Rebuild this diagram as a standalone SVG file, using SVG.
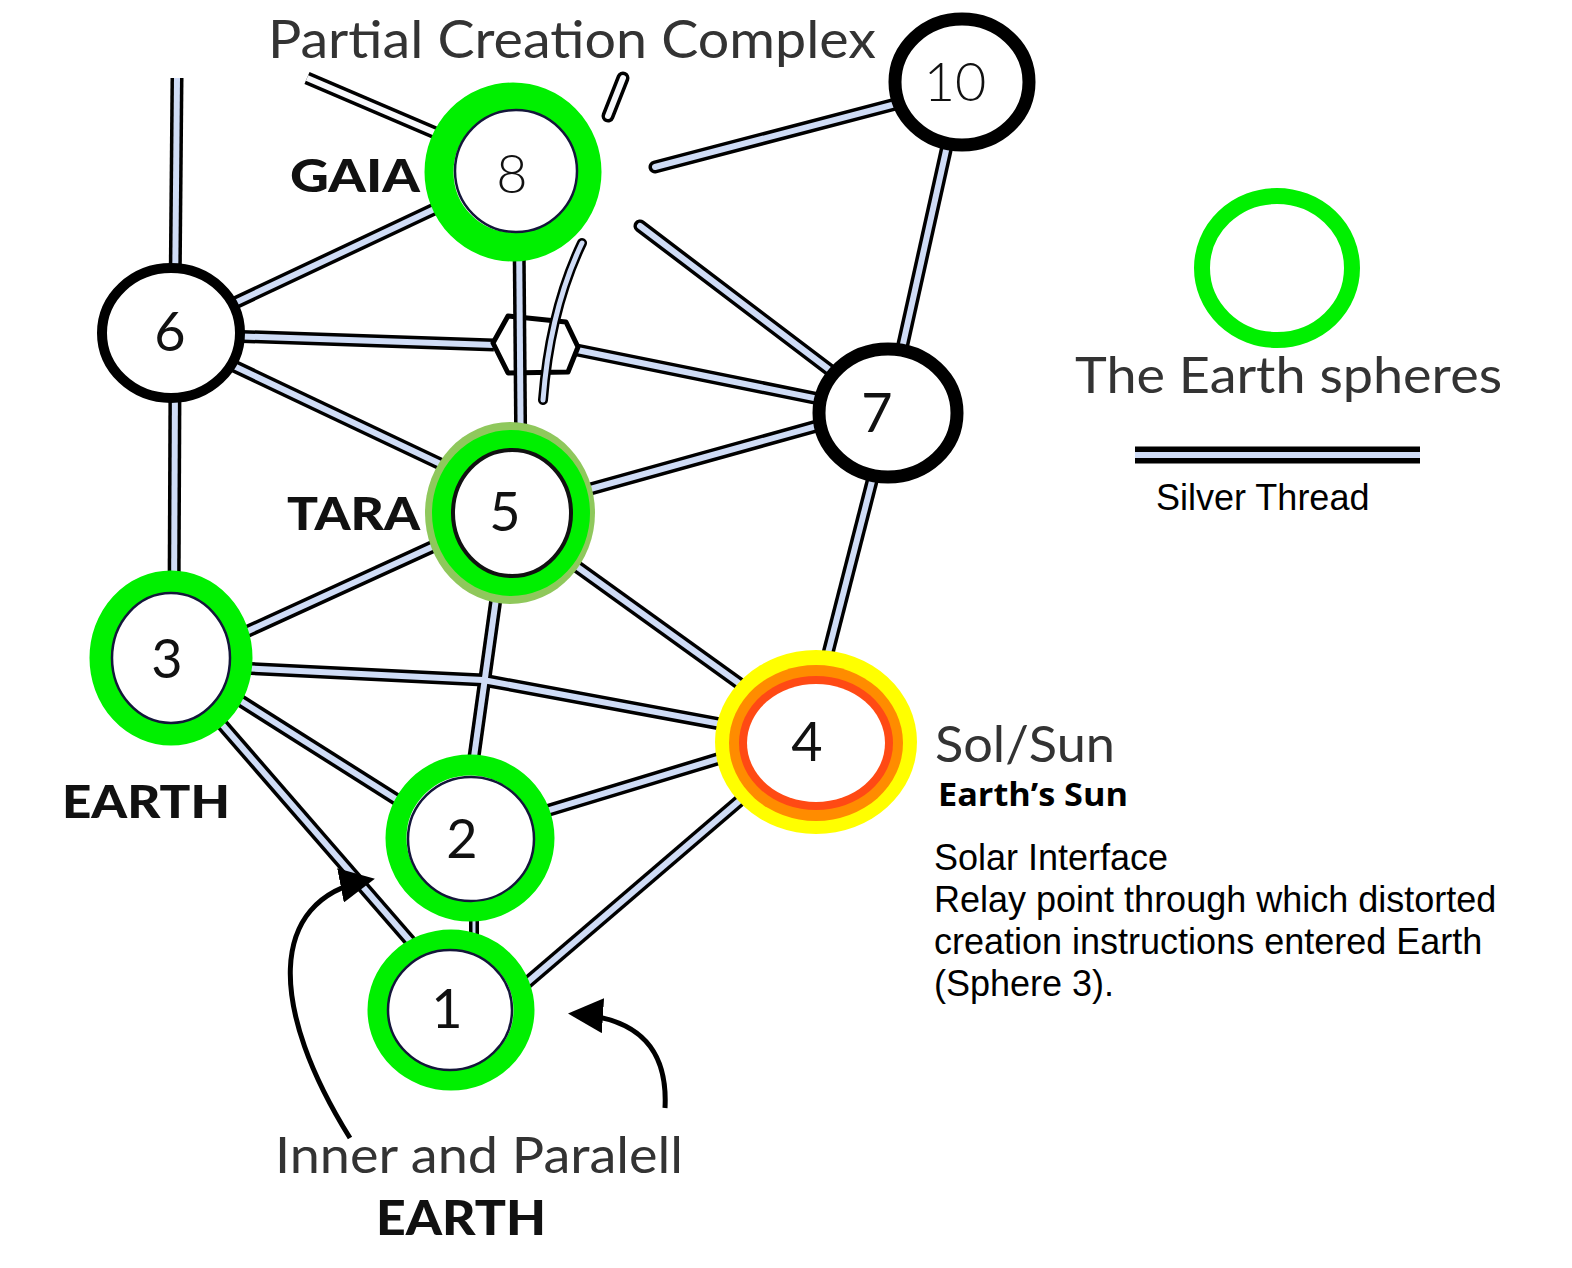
<svg xmlns="http://www.w3.org/2000/svg" width="1572" height="1268" viewBox="0 0 1572 1268">
<style>
.to{fill:none;stroke:#000;stroke-width:13}
.ti{fill:none;stroke:#cfdcf6;stroke-width:6}
.tw{fill:none;stroke:#f7f8fb;stroke-width:6}
.rc{stroke-linecap:round}
.num{font-family:Lato,"Noto Sans",sans-serif;font-weight:400;font-size:54px;fill:#111;text-anchor:middle}
.lt{font-weight:300}
.lbl{font-family:Lato,"Noto Sans",sans-serif;fill:#333}
.bold{font-family:Lato,"Noto Sans",sans-serif;font-weight:900;fill:#111}
.ar{font-family:"Liberation Sans",Arial,sans-serif;font-size:36px;fill:#000}
.green{fill:#fff;stroke:#00f000}
.blk{fill:#fff;stroke:#000}
.inner{fill:#fff;stroke:#14163a;stroke-width:2.5}
.arrow{fill:none;stroke:#000;stroke-width:5}
</style>
<defs>
<marker id="ah" viewBox="0 0 10 10" refX="8" refY="5" markerWidth="7" markerHeight="7" markerUnits="strokeWidth" orient="auto">
<path d="M0,0 L10,5 L0,10 z" fill="#000"/>
</marker>
</defs>
<rect width="1572" height="1268" fill="#fff"/>

<g id="connectors">
<path class="to" d="M177,78 L175,300"/><path class="ti" d="M177,78 L175,300"/>
<path class="to" d="M307,78 L480,152"/><path class="tw" d="M307,78 L480,152"/>
<path class="to rc" d="M623,78 L608,116"/><path class="tw rc" d="M623,78 L608,116"/>
<path class="to rc" d="M930,95 L655,167"/><path class="ti rc" d="M930,95 L655,167"/>
<path class="to" d="M955,110 L895,380"/><path class="ti" d="M955,110 L895,380"/>
<path class="to rc" d="M640,226 L860,393"/><path class="ti rc" d="M640,226 L860,393"/>
<path class="to" d="M513,172 L171,333"/><path class="ti" d="M513,172 L171,333"/>
<path class="to" d="M171,334 L494,345"/><path class="ti" d="M171,334 L494,345"/>
<path class="to" d="M577,350 L888,413"/><path class="ti" d="M577,350 L888,413"/>
<path class="to" d="M200,350 L470,478"/><path class="ti" d="M200,350 L470,478"/>
<path class="to" d="M175,380 L174,610"/><path class="ti" d="M175,380 L174,610"/>
<path class="to" d="M540,503 L860,414"/><path class="ti" d="M540,503 L860,414"/>
<path class="to" d="M480,525 L200,653"/><path class="ti" d="M480,525 L200,653"/>
<path class="to" d="M540,540 L790,720"/><path class="ti" d="M540,540 L790,720"/>
<path class="to" d="M500,570 L468,800"/>
<path class="to" d="M200,666 L483,680 L780,735"/>
<path class="ti" d="M500,570 L468,800"/>
<path class="ti" d="M200,666 L483,680 L780,735"/>
<path class="to" d="M200,675 L440,827"/><path class="ti" d="M200,675 L440,827"/>
<path class="to" d="M200,699 L430,964"/><path class="ti" d="M200,699 L430,964"/>
<path class="to" d="M880,450 L816,700"/><path class="ti" d="M880,450 L816,700"/>
<path class="to" d="M480,831 L800,734"/><path class="ti" d="M480,831 L800,734"/>
<path class="to" d="M480,1023 L780,766"/><path class="ti" d="M480,1023 L780,766"/>
<path class="to" d="M474,900 L474,960" style="stroke-width:10"/><path class="ti" d="M474,900 L474,960" style="stroke-width:3"/>
</g>

<g id="hexagon">
<polygon points="493,343 508,316 566,322 578,347 568,372 508,373" fill="#fff" stroke="#000" stroke-width="5" stroke-linejoin="round"/>
</g>
<g id="threads-over-hex">
<path class="to" d="M519,230 L521,480"/><path class="ti" d="M519,230 L521,480"/>
<path class="to rc" d="M582,243 Q550,310 543,400" style="stroke-width:10"/><path class="ti rc" d="M582,243 Q550,310 543,400" style="stroke-width:5"/>
</g>

<g id="node-10">
<ellipse cx="962" cy="82" rx="67" ry="63" class="blk" stroke-width="13"/>
<text x="955" y="101" class="num lt" font-size="56">10</text>
</g>
<g id="node-8">
<ellipse cx="513" cy="172" rx="74" ry="75" class="green" stroke-width="29"/>
<ellipse cx="516" cy="171" rx="61" ry="61" class="inner"/>
<text x="512" y="193" class="num lt" font-size="76">8</text>
</g>
<g id="node-6">
<ellipse cx="171" cy="333" rx="69" ry="65" class="blk" stroke-width="10"/>
<text x="170" y="351" class="num" font-size="50">6</text>
</g>
<g id="node-7">
<ellipse cx="888" cy="413" rx="69" ry="64" class="blk" stroke-width="13"/>
<text x="877" y="432" class="num" font-size="52">7</text>
</g>
<g id="node-5">
<ellipse cx="510" cy="513" rx="85" ry="91" fill="#8fc85c"/>
<ellipse cx="511" cy="513" rx="69" ry="73" class="green" stroke-width="20"/>
<ellipse cx="512" cy="513" rx="59" ry="63" fill="#fff" stroke="#111" stroke-width="4"/>
<text x="505" y="531" class="num" font-size="52">5</text>
</g>
<g id="node-3">
<ellipse cx="171" cy="658" rx="70" ry="76" class="green" stroke-width="23"/>
<ellipse cx="171" cy="658" rx="59" ry="65" class="inner"/>
<text x="167" y="678" class="num" font-size="54">3</text>
</g>
<g id="node-2">
<ellipse cx="470" cy="838" rx="74" ry="73" class="green" stroke-width="21"/>
<ellipse cx="471" cy="839" rx="63" ry="62" class="inner"/>
<text x="462" y="858" class="num" font-size="52">2</text>
</g>
<g id="node-1">
<ellipse cx="451" cy="1010" rx="73" ry="70" class="green" stroke-width="21"/>
<ellipse cx="450" cy="1010" rx="62" ry="60" class="inner"/>
<text x="447" y="1028" class="num" font-size="52">1</text>
</g>
<g id="node-4">
<ellipse cx="816" cy="742" rx="101" ry="92" fill="#ffff00"/>
<ellipse cx="816" cy="743" rx="87" ry="78" fill="#ff8c00"/>
<ellipse cx="816" cy="743" rx="77" ry="67" fill="#ff4a14"/>
<ellipse cx="816" cy="743" rx="69" ry="59" fill="#fff"/>
<text x="807" y="761" class="num" font-size="52">4</text>
</g>

<g id="labels">
<text x="268" y="58" class="lbl" font-size="52" fill="#222" textLength="608" lengthAdjust="spacingAndGlyphs">Partial Creation Complex</text>
<text x="290" y="192" class="bold" font-size="46" textLength="130" lengthAdjust="spacingAndGlyphs">GAIA</text>
<text x="287" y="530" class="bold" font-size="46" textLength="133" lengthAdjust="spacingAndGlyphs">TARA</text>
<text x="62" y="818" class="bold" font-size="46" textLength="168" lengthAdjust="spacingAndGlyphs">EARTH</text>
<text x="935" y="762" class="lbl" font-size="50" textLength="180" lengthAdjust="spacingAndGlyphs">Sol/Sun</text>
<text x="938" y="806" font-family="'Open Sans','Noto Sans',sans-serif" font-weight="bold" font-size="33" fill="#000" textLength="190" lengthAdjust="spacingAndGlyphs">Earth’s Sun</text>
<text x="934" y="870" class="ar">Solar Interface</text>
<text x="934" y="912" class="ar">Relay point through which distorted</text>
<text x="934" y="954" class="ar">creation instructions entered Earth</text>
<text x="934" y="996" class="ar">(Sphere 3).</text>
<text x="275" y="1173" class="lbl" font-size="50" textLength="408" lengthAdjust="spacingAndGlyphs">Inner and Paralell</text>
<text x="376" y="1235" class="bold" font-size="48" textLength="170" lengthAdjust="spacingAndGlyphs">EARTH</text>
</g>

<g id="arrows">
<path class="arrow" d="M350,1138 C270,1010 265,900 368,880" marker-end="url(#ah)"/>
<path class="arrow" d="M665,1108 C668,1050 640,1018 575,1014" marker-end="url(#ah)"/>
</g>

<g id="legend">
<ellipse cx="1277" cy="268" rx="75" ry="72" class="green" stroke-width="16"/>
<text x="1075" y="393" class="lbl" font-size="50" textLength="427" lengthAdjust="spacingAndGlyphs">The Earth spheres</text>
<line x1="1135" y1="455" x2="1420" y2="455" stroke="#000" stroke-width="17"/>
<line x1="1135" y1="455" x2="1420" y2="455" stroke="#cfdcf6" stroke-width="6"/>
<text x="1156" y="510" class="ar">Silver Thread</text>
</g>
</svg>
